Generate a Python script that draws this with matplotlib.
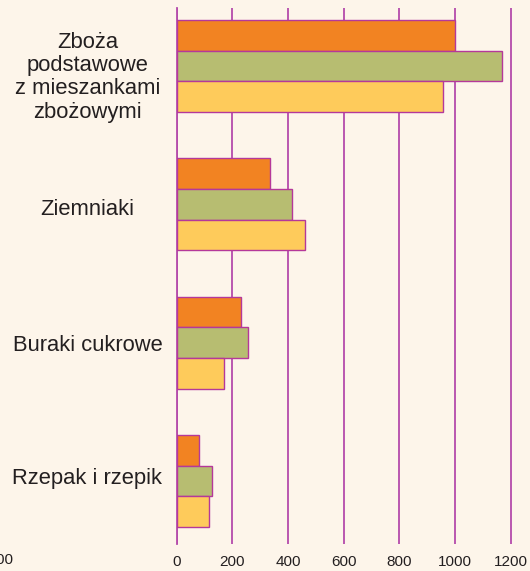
import matplotlib
matplotlib.use('Agg')
import matplotlib.pyplot as plt
import numpy as np

plt.rcParams['font.family'] = ['Liberation Sans', 'DejaVu Sans']

# dane
kategorie = ['Zboża\npodstawowe\nz mieszankami\nzbożowymi', 'Ziemniaki',
             'Buraki cukrowe', 'Rzepak i rzepik']
seria1 = [1000, 336, 233, 81]    # pomarańczowa
seria2 = [1168, 416, 258, 126]   # zielona
seria3 = [955, 463, 171, 118]    # żółta
ticki = [0, 200, 400, 600, 800, 1000, 1200]

tlo = '#fdf5ea'
kolory = ['#f28322', '#b7bd71', '#fecb5b']
obwodka = '#b5389a'
siatka = '#b44bab'

fig = plt.figure(figsize=(5.3, 5.71), dpi=100, facecolor=tlo)
ax = fig.add_axes([176.5 / 530, 27 / 571, 351 / 530, 536 / 571])
ax.set_facecolor(tlo)

y = np.arange(len(kategorie))
h = 0.222
for i, (vals, kol) in enumerate(zip([seria1, seria2, seria3], kolory)):
    ax.barh(y + (i - 1) * h, vals, height=h, color=kol,
            edgecolor=obwodka, linewidth=1.0, zorder=3)

ax.set_xlim(0, 1260)
ax.set_ylim(3.455, -0.42)
ax.set_xticks(ticki)
ax.set_xticklabels([str(t) for t in ticki], fontsize=11, color='#231f20')
ax.set_yticks([])
ax.tick_params(axis='x', length=0, pad=8)
ax.grid(axis='x', color=siatka, linewidth=1.3, zorder=1)
ax.axvline(0, color=siatka, linewidth=1.3, zorder=2, clip_on=False)
for s in ax.spines.values():
    s.set_visible(False)

# etykiety kategorii
przes = [0.08, 0.04, 0.02, -0.02]
for yi, txt, p in zip(y, kategorie, przes):
    ax.text(-89 / 0.2785, yi + p, txt, ha='center', va='center',
            fontsize=15.8, color='#231f20', linespacing=1.15)

# fragment sąsiedniego wykresu po lewej
fig.text(14 / 530, ax.get_position().y0 - 16 / 571, '1200', ha='right',
         va='center', fontsize=11, color='#231f20')

fig.savefig('out.png', dpi=100, facecolor=tlo)
